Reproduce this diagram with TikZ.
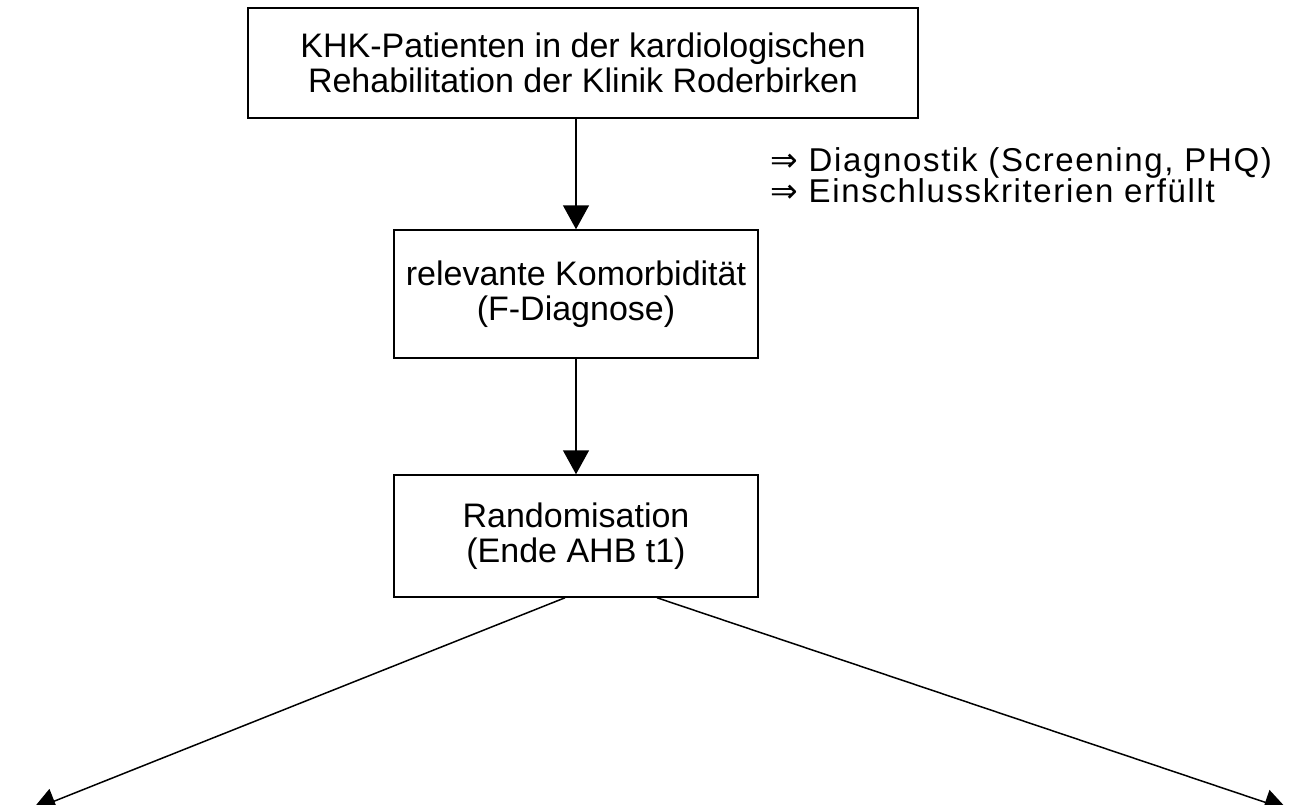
\documentclass[tikz,border=0pt]{standalone}
\usepackage{fontspec}
\setmainfont{Liberation Sans}
\newfontfamily\pfeilfont{DejaVu Sans}
\newfontfamily\notizfont[LetterSpace=5]{Liberation Sans}
\usetikzlibrary{arrows.meta}

\begin{document}
\begin{tikzpicture}[x=1pt,y=1pt,yscale=-1,xscale=1,
  box/.style={draw,line width=1.5pt,inner sep=0pt,align=center,font=\fontsize{34}{35}\selectfont},
  pfeil/.style={line width=1.5pt,-{Triangle[length=24pt,width=26pt]}}]
\useasboundingbox (0,0) rectangle (1303,804);

%Shape: Rectangle [id:khk]
\node[box,minimum width=670,minimum height=110] (khk) at (583,63) {KHK-Patienten in der kardiologischen\\Rehabilitation der Klinik Roderbirken};
%Shape: Rectangle [id:komorb]
\node[box,minimum width=364,minimum height=128] (komorb) at (576,294) {relevante Komorbidität\\(F-Diagnose)};
%Shape: Rectangle [id:random]
\node[box,minimum width=364,minimum height=122] (random) at (576,536) {Randomisation\\(Ende AHB t1)};

% Text Node
\node[anchor=north west,inner sep=0pt,align=left,font=\notizfont\fontsize{33}{30}\selectfont] (diag) at (770,147) {{\pfeilfont ⇒} Diagnostik (Screening, PHQ)\\{\pfeilfont ⇒} Einschlusskriterien erfüllt};

%Free ends
\coordinate (links) at (32,810);
\coordinate (rechts) at (1288,810);

%Straight Lines
\draw[pfeil] (khk.south -| komorb.north) -- (komorb);
\draw[pfeil] (komorb) -- (random);
\draw[pfeil] ([xshift=-11pt]random.south) -- (links);
\draw[pfeil] ([xshift=81pt]random.south) -- (rechts);

\end{tikzpicture}
\end{document}
